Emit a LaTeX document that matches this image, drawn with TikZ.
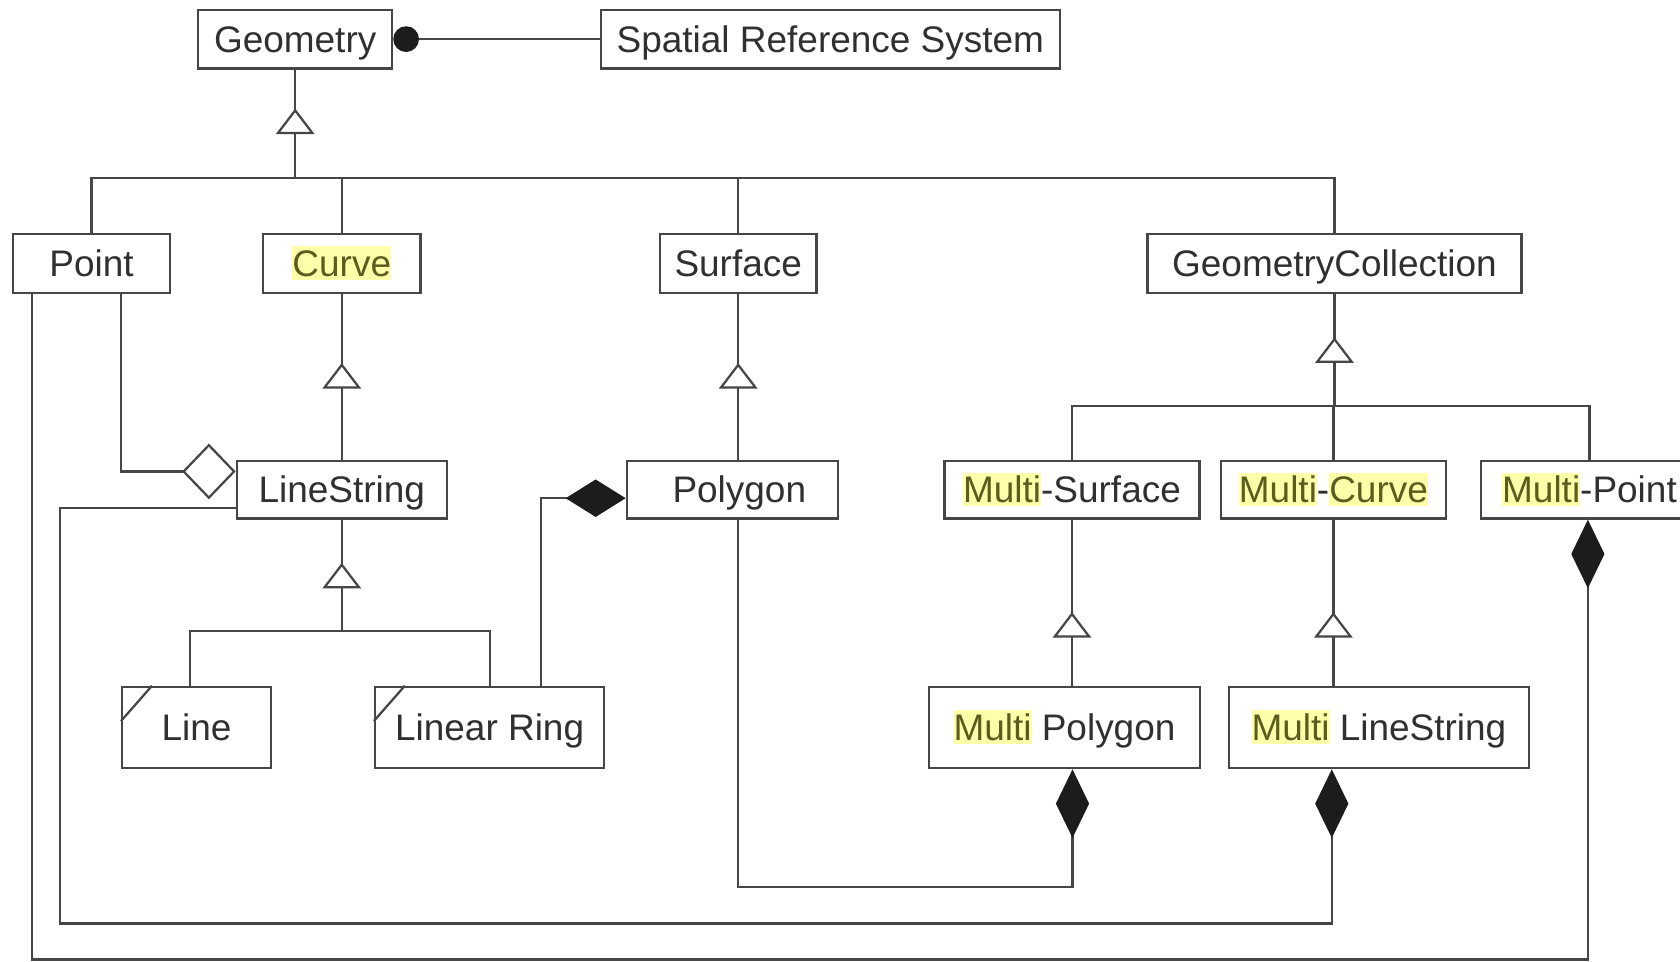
\documentclass[tikz,border=0pt]{standalone}
\usepackage{fontspec}
\setmainfont{Liberation Sans}
\usetikzlibrary{arrows.meta}
\definecolor{ink}{HTML}{464646}
\definecolor{txt}{HTML}{303030}
\definecolor{hly}{HTML}{FFFFAA}
\definecolor{hlt}{HTML}{5C5C1E}
\definecolor{solid}{HTML}{1C1C1C}
% highlighted word
\newcommand\hl[1]{{\setlength\fboxsep{0pt}\colorbox{hly}{\rule[-0.08em]{0pt}{0.9em}\textcolor{hlt}{#1}}}}
\begin{document}
\begin{tikzpicture}[x=1pt,y=-1pt,
  conn/.style={draw=ink,line width=2.1pt},
  box/.style={draw=ink,line width=2.1pt,fill=white,inner sep=0pt,
    minimum height=55pt,text=txt,font=\fontsize{34.5}{40}\selectfont,
    text height=24.7pt,text depth=0pt},
  tall/.style={box,minimum height=76pt},
  comp/.style={conn,-{Diamond[length=64pt,width=31pt,color=solid]}},
  gentri/.pic={\draw[conn,fill=white] (0,0) -- (-16,21) -- (16,21) -- cycle;}]
\useasboundingbox (0,0) rectangle (1568,897);
\clip (0,0) rectangle (1568,897);

% bus levels
\coordinate (busA) at (0,166);
\coordinate (busB) at (0,379);
\coordinate (busC) at (0,589);

% classes
\node[box,minimum width=181] (geom) at (275.5,36.5) {Geometry};
\node[box,minimum width=428] (srs) at (775,36.5) {Spatial Reference System};
\node[box,minimum width=147] (point) at (85.5,246) {Point};
\node[box,minimum width=147] (curve) at (319,246) {\hl{Curve}};
\node[box,minimum width=146] (surface) at (689,246) {Surface};
\node[box,minimum width=349] (gc) at (1245.5,246) {GeometryCollection};
\node[box,minimum width=196,minimum height=54] (ls) at (319,457) {LineString};
\node[box,minimum width=197,minimum height=54] (polygon) at (683.5,457) {\hspace*{13pt}Polygon};
\node[box,minimum width=238,minimum height=54] (msurf) at (1000.5,457) {\hl{Multi}-Surface};
\node[box,minimum width=210,minimum height=54] (mcurve) at (1244.5,457) {\hl{Multi}-\hl{Curve}};
\node[box,minimum width=203,minimum height=54] (mpoint) at (1483.5,457) {\hl{Multi}-Point};
\node[tall,minimum width=139] (line) at (183.5,679) {Line};
\node[tall,minimum width=214] (lring) at (457,679) {Linear Ring};
\node[tall,minimum width=253] (mpoly) at (993.5,679) {\hl{Multi} Polygon};
\node[tall,minimum width=280] (mls) at (1287,679) {\hl{Multi} LineString};

% corner marks
\draw[conn] ([yshift=-33]line.north west) -- ([xshift=29]line.north west);
\draw[conn] ([yshift=-33]lring.north west) -- ([xshift=29]lring.north west);

% spatial reference
\draw[conn,{Circle[length=24pt,width=24pt,color=solid]}-] (geom.east) -- (geom.east -| srs.west);

% generalisation trees
\draw[conn] (geom.south) -- (geom.south |- busA);
\draw[conn] (point.north) |- (gc.north |- busA) -- (gc.north);
\draw[conn] (curve.north) -- (curve.north |- busA);
\draw[conn] (surface.north) -- (surface.north |- busA);

\draw[conn] (curve.south) -- (ls.north);
\draw[conn] (surface.south) -- (surface.south |- polygon.north);

\draw[conn] (gc.south) -- (gc.south |- busB);
\draw[conn] (msurf.north) |- (mpoint.north |- busB) -- (mpoint.north);
\draw[conn] (mcurve.north) -- (mcurve.north |- busB);

\draw[conn] (ls.south) -- (ls.south |- busC);
\draw[conn] ([xshift=-6.5]line.north) |- (lring.north |- busC) -- (lring.north);

\draw[conn] (msurf.south) -- (msurf.south |- mpoly.north);
\draw[conn] (mcurve.south) -- (mcurve.south |- mls.north);

\pic at ([yshift=-38]geom.south) {gentri};
\pic at ([yshift=-66]curve.south) {gentri};
\pic at ([yshift=-66]surface.south) {gentri};
\pic at ([yshift=-42]gc.south) {gentri};
\pic at ([yshift=-42]ls.south) {gentri};
\pic at ([yshift=-88]msurf.south) {gentri};
\pic at ([yshift=-88]mcurve.south) {gentri};

% aggregation and composition
\draw[conn,-{Diamond[open,length=50pt,width=52pt]}] ([xshift=27.5]point.south) |- ([yshift=17]ls.west);
\draw[conn,-{Diamond[length=56pt,width=35pt,color=solid]}] ([xshift=48]lring.north) |- ([yshift=-8]polygon.west);
\draw[comp] ([xshift=5.5]polygon.south) -- ++(0,343) -| ([xshift=7.5]mpoly.south);
\draw[comp] ([yshift=-17]ls.west) -- ++(-164,0) -- ++(0,388) -| ([xshift=-44]mls.south);
\draw[comp] ([xshift=-55.5]point.south) -- ++(0,621) -| ([xshift=-1.5]mpoint.south);
\end{tikzpicture}
\end{document}
